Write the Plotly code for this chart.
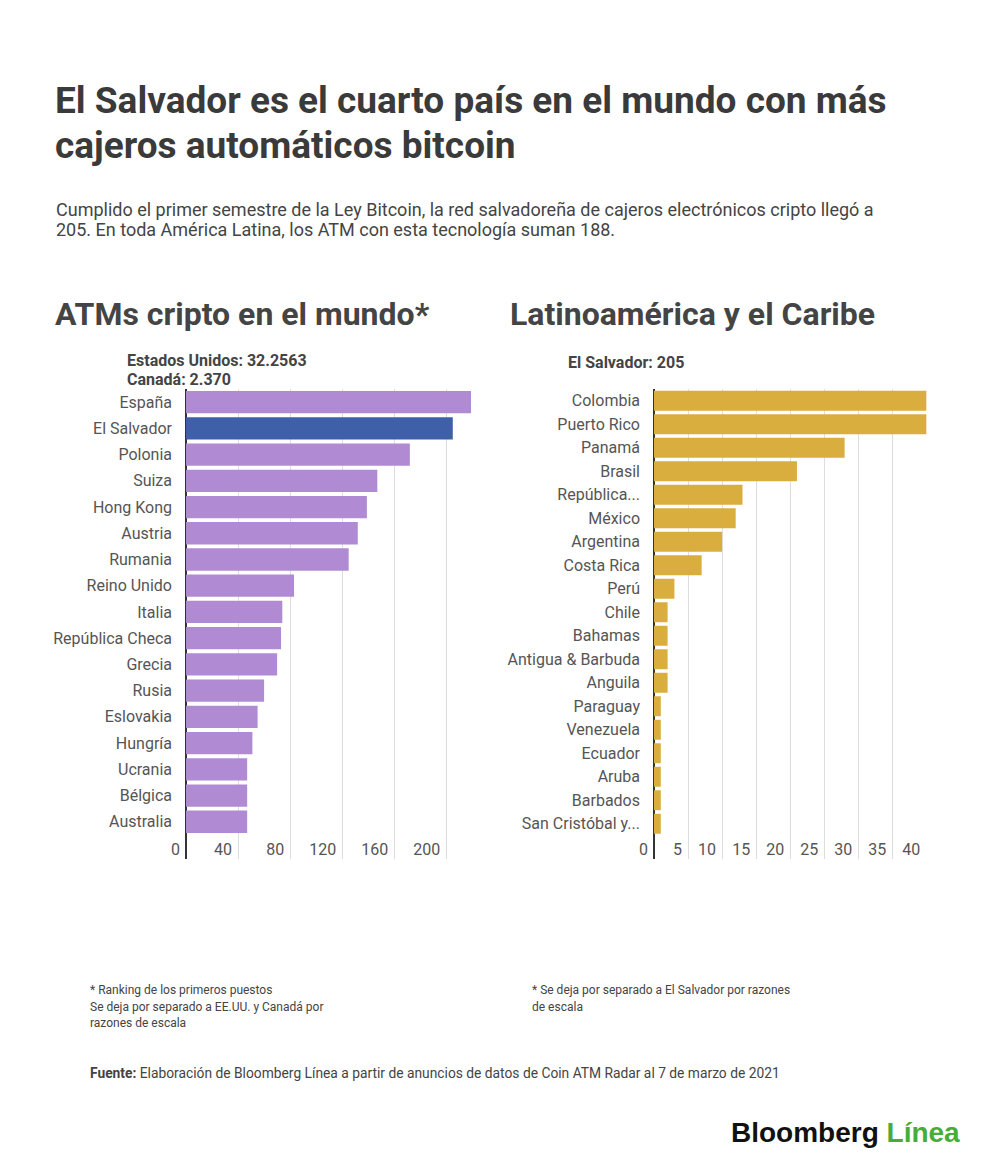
import plotly.graph_objects as go

# ---------------- data ----------------
world_countries = ["España", "El Salvador", "Polonia", "Suiza", "Hong Kong", "Austria",
                   "Rumania", "Reino Unido", "Italia", "República Checa", "Grecia", "Rusia",
                   "Eslovakia", "Hungría", "Ucrania", "Bélgica", "Australia"]
world_values = [219, 205, 172, 147, 139, 132, 125, 83, 74, 73, 70, 60, 55, 51, 47, 47, 47]
world_ticks = [0, 40, 80, 120, 160, 200]

latam_countries = ["Colombia", "Puerto Rico", "Panamá", "Brasil", "República...", "México",
                   "Argentina", "Costa Rica", "Perú", "Chile", "Bahamas", "Antigua & Barbuda",
                   "Anguila", "Paraguay", "Venezuela", "Ecuador", "Aruba", "Barbados",
                   "San Cristóbal y..."]
latam_values = [40, 40, 28, 21, 13, 12, 10, 7, 3, 2, 2, 2, 2, 1, 1, 1, 1, 1, 1]
latam_ticks = [0, 5, 10, 15, 20, 25, 30, 35, 40]

# ---------------- styling ----------------
OFF = 8                       # default page body margin
W, H = 1000 - 2 * OFF, 1170 - 2 * OFF
FONT = "Roboto"
PURPLE = "#b08bd3"
BLUE = "#3f5fa9"
GOLD = "#d9ae3f"
GRID = "#dddddd"
TICKCOL = "#555555"

def px(x):
    return (x - OFF) / W

def py(y):
    return 1 - (y - OFF) / H

world_colors = [BLUE if c == "El Salvador" else PURPLE for c in world_countries]

fig = go.Figure()
fig.add_trace(go.Bar(x=world_values, y=world_countries, orientation="h",
                     marker=dict(color=world_colors, line=dict(width=0)),
                     xaxis="x", yaxis="y", showlegend=False, hoverinfo="x+y"))
fig.add_trace(go.Bar(x=latam_values, y=latam_countries, orientation="h",
                     marker=dict(color=GOLD, line=dict(width=0)),
                     xaxis="x2", yaxis="y2", showlegend=False, hoverinfo="x+y"))

ydom = [py(859), py(389)]
PAD = 26  # px of empty axis room left of value 0 (holds the "0" tick label)

common_x = dict(showgrid=True, gridcolor=GRID, gridwidth=1,
                zeroline=True, zerolinecolor="#333333", zerolinewidth=2,
                showline=False, ticks="", ticklabelposition="inside left",
                ticklabelstandoff=-5, ticklabelshift=-6,
                tickfont=dict(family=FONT, size=16, color=TICKCOL), fixedrange=True)
common_y = dict(type="category", showgrid=False, zeroline=False, showline=False,
                ticks="", ticklabelstandoff=13 - PAD,
                tickfont=dict(family=FONT, size=16, color=TICKCOL), fixedrange=True)

# left chart: value 0 sits at x=186 px, 1 unit = 1.3 px; right chart: 0 at 654 px, 1 unit = 6.81 px
fig.update_layout(
    width=W, height=H,
    margin=dict(l=0, r=0, t=0, b=0),
    paper_bgcolor="white", plot_bgcolor="white",
    bargap=0.15,
    font=dict(family=FONT, color="#444444"),
    xaxis=dict(domain=[px(186 - PAD), px(471)], range=[-PAD / 1.3, 219],
               tickvals=world_ticks, anchor="y", **common_x),
    yaxis=dict(domain=ydom, range=[17.42, -0.5], anchor="x",
               categoryorder="array", categoryarray=world_countries, **common_y),
    xaxis2=dict(domain=[px(654 - PAD), px(927)], range=[-PAD / 6.81, 40.1],
                tickvals=latam_ticks, anchor="y2", **common_x),
    yaxis2=dict(domain=ydom, range=[19.5, -0.5], anchor="x2",
                categoryorder="array", categoryarray=latam_countries, **common_y),
)

ann = []
def text(x, y, s, size, color="#444444", bold=False, xanchor="left", family=FONT):
    ann.append(dict(x=px(x), y=py(y), xref="paper", yref="paper", text=s,
                    showarrow=False, xanchor=xanchor, yanchor="middle", align="left",
                    font=dict(family=family, size=size, color=color,
                              weight=700 if bold else 400)))

# title
text(53, 101, "El Salvador es el cuarto país en el mundo con más", 37, "#3a3a3a", True)
text(53, 145, "cajeros automáticos bitcoin", 37, "#3a3a3a", True)
# subtitle
text(54, 210, "Cumplido el primer semestre de la Ley Bitcoin, la red salvadoreña de cajeros electrónicos cripto llegó a", 18, "#444444")
text(54, 230, "205. En toda América Latina, los ATM con esta tecnología suman 188.", 18, "#444444")
# panel headings
text(53, 314, "ATMs cripto en el mundo*", 32, "#444444", True)
text(508, 314, "Latinoamérica y el Caribe", 32, "#444444", True)
# side notes
text(125, 360, "Estados Unidos: 32.2563", 16, "#444444", True)
text(125, 380, "Canadá: 2.370", 16, "#444444", True)
text(566, 362, "El Salvador: 205", 16, "#444444", True)
# footnotes
text(88, 990, "* Ranking de los primeros puestos", 12, "#444444")
text(88, 1007, "Se deja por separado a EE.UU. y Canadá por", 12, "#444444")
text(88, 1023, "razones de escala", 12, "#444444")
text(530, 990, "* Se deja por separado a El Salvador por razones", 12, "#444444")
text(530, 1007, "de escala", 12, "#444444")
text(88, 1073, "<b>Fuente:</b> Elaboración de Bloomberg Línea a partir de anuncios de datos de Coin ATM Radar al 7 de marzo de 2021", 13.8, "#444444")
# logo
text(962, 1132, "<span style='color:#111111'>Bloomberg</span> <span style='color:#46ad3a'>Línea</span>",
     28, "#111111", True, xanchor="right", family="Liberation Sans")

fig.update_layout(annotations=ann)
fig.write_html("out.html")
